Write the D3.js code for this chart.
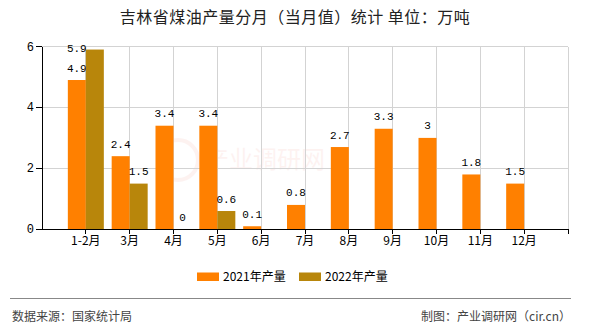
<!DOCTYPE html>
<html><head><meta charset="utf-8">
<script src="https://cdn.jsdelivr.net/npm/d3@7/dist/d3.min.js"></script>
<style>body{margin:0;background:#fff}svg{display:block}</style>
</head><body>
<svg id="c" width="590" height="330"></svg>
<script>
const categories = ["1-2月","3月","4月","5月","6月","7月","8月","9月","10月","11月","12月"];
const series2021 = [4.9,2.4,3.4,3.4,0.1,0.8,2.7,3.3,3,1.8,1.5];
const series2022 = [5.9,1.5,0,0.6,null,null,null,null,null,null,null];
const seriesNames = ["2021年产量","2022年产量"];
const colors = ["#FF8000","#B8860B"];
const yTicks = [0,2,4,6];
const title = "吉林省煤油产量分月（当月值）统计 单位：万吨";
const source = "数据来源：国家统计局";
const maker = "制图：产业调研网（cir.cn）";

const svg = d3.select("#c");
const L = 42, R = 568, T = 46.5, B = 229.3;
const x = d3.scaleLinear().domain([-1, categories.length]).range([L, R]);
const y = d3.scaleLinear().domain([0, 6]).range([B, T]);
const bw = 18;
const mono = "'Liberation Mono','DejaVu Sans Mono',monospace";
const cjk = "'Noto Sans CJK SC','Noto Sans',sans-serif";

// watermark
const wm = svg.append("g").attr("opacity", 0.06);
wm.append("circle").attr("cx", 178).attr("cy", 160).attr("r", 20).attr("fill", "none").attr("stroke", "#e0301e").attr("stroke-width", 4);
wm.append("text").attr("x", 205).attr("y", 168).attr("font-family", cjk).attr("font-size", 24).attr("fill", "#e0301e").text("产业调研网");

// grid
const gx = d3.range(0, categories.length + 1).map(i => i);
svg.append("g").selectAll("line").data(gx).join("line")
  .attr("x1", d => x(d)).attr("x2", d => x(d)).attr("y1", T).attr("y2", B)
  .attr("stroke", "#d3d3d3").attr("stroke-width", 1).attr("shape-rendering", "crispEdges");
svg.append("g").selectAll("line").data(yTicks.filter(d => d > 0)).join("line")
  .attr("x1", L).attr("x2", R).attr("y1", d => y(d)).attr("y2", d => y(d))
  .attr("stroke", "#d3d3d3").attr("stroke-width", 1).attr("shape-rendering", "crispEdges");

// bars
const rows = categories.map((c, i) => ({ i, v: [series2021[i], series2022[i]] }));
const gBars = svg.append("g");
[0, 1].forEach(s => {
  const data = rows.filter(r => r.v[s] != null);
  gBars.selectAll(".b" + s).data(data).join("rect")
    .attr("x", d => s === 0 ? x(d.i) - bw : x(d.i))
    .attr("width", bw)
    .attr("y", d => y(d.v[s]))
    .attr("height", d => B - y(d.v[s]))
    .attr("fill", colors[s]);
  gBars.selectAll(".t" + s).data(data).join("text")
    .attr("x", d => {
      const cx = s === 0 ? x(d.i) - bw / 2 : x(d.i) + bw / 2;
      return (y(d.v[s]) - 12.5 < T) ? cx - bw : cx;
    })
    .attr("y", d => Math.max(y(d.v[s]) - 12.5, T + 1.5) + 4)
    .attr("text-anchor", "middle").attr("font-family", mono).attr("font-size", 11).attr("fill", "#000")
    .text(d => d.v[s]);
});

// axes
const xa = svg.append("g").attr("transform", `translate(0,${B})`);
xa.append("line").attr("x1", L).attr("x2", R).attr("stroke", "#000").attr("shape-rendering", "crispEdges");
xa.selectAll(".tk").data(gx).join("line").attr("x1", d => x(d)).attr("x2", d => x(d)).attr("y1", 0).attr("y2", 5)
  .attr("stroke", "#000").attr("shape-rendering", "crispEdges");
xa.selectAll("text").data(categories).join("text")
  .attr("x", (d, i) => x(i)).attr("y", 16).attr("text-anchor", "middle")
  .attr("font-family", cjk).attr("font-size", 12).attr("fill", "#000").text(d => d);

const ya = svg.append("g");
ya.append("line").attr("x1", L).attr("x2", L).attr("y1", T).attr("y2", B).attr("stroke", "#000").attr("shape-rendering", "crispEdges");
ya.selectAll(".tk").data(yTicks).join("line").attr("x1", L - 6).attr("x2", L).attr("y1", d => y(d)).attr("y2", d => y(d))
  .attr("stroke", "#000").attr("shape-rendering", "crispEdges");
ya.selectAll("text").data(yTicks).join("text")
  .attr("x", L - 8).attr("y", d => y(d) + 4).attr("text-anchor", "end")
  .attr("font-family", mono).attr("font-size", 12).attr("fill", "#000").text(d => d);

// title
svg.append("text").attr("x", 295).attr("y", 23).attr("text-anchor", "middle")
  .attr("font-family", cjk).attr("font-size", 16).attr("letter-spacing", 0.5).attr("fill", "#222").text(title);

// legend
const lg = svg.append("g");
const lx = [197, 299];
seriesNames.forEach((n, i) => {
  lg.append("rect").attr("x", lx[i]).attr("y", 272.5).attr("width", 22).attr("height", 8.5).attr("fill", colors[i]);
  lg.append("text").attr("x", lx[i] + 26).attr("y", 281).attr("font-family", cjk).attr("font-size", 12).attr("fill", "#000").text(n);
});

// footer
svg.append("line").attr("x1", 10).attr("x2", 571).attr("y1", 298.5).attr("y2", 298.5).attr("stroke", "#888").attr("stroke-width", 1.2);
svg.append("text").attr("x", 12).attr("y", 321).attr("font-family", cjk).attr("font-size", 12).attr("fill", "#444").text(source);
svg.append("text").attr("x", 571).attr("y", 321).attr("text-anchor", "end").attr("font-family", cjk).attr("font-size", 12).attr("fill", "#444").text(maker);
</script>
</body></html>
